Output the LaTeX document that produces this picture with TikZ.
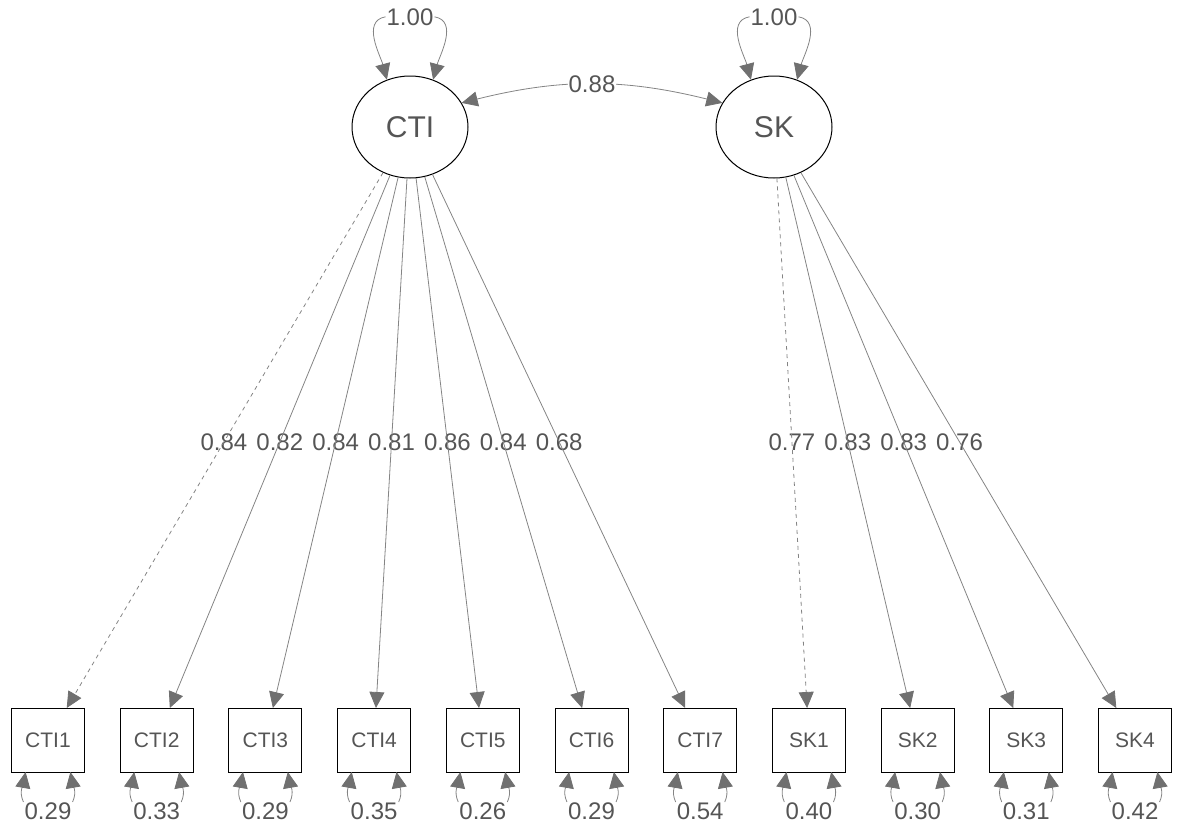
\documentclass[tikz,border=0pt]{standalone}
\usepackage{fontspec}
\setmainfont{Liberation Sans}
\usepackage{tikz}
\usetikzlibrary{positioning, arrows.meta, calc, shapes.geometric}

\definecolor{semtext}{RGB}{85,85,85}
\definecolor{semline}{RGB}{132,132,132}
\definecolor{semhead}{RGB}{112,112,112}

\begin{document}
\begin{tikzpicture}[x=1pt, y=1pt]
	% Define styles
	\tikzset{
		semtip/.tip={Triangle[length=16pt, width=15pt, color=semhead]},
		latent/.style={ellipse, draw, line width=1pt, minimum width=116pt, minimum height=102pt, inner sep=0pt, text=semtext, font=\fontsize{30}{36}\selectfont},
		manifest/.style={rectangle, draw, line width=1pt, minimum width=73pt, minimum height=64pt, inner sep=0pt, outer sep=0pt, text=semtext, font=\fontsize{21}{25}\selectfont},
		est/.style={text=semtext, inner sep=1pt, font=\fontsize{24}{28}\selectfont},
		line/.style={draw=semline, line width=0.8pt, -semtip},
		fixed/.style={line, dash pattern=on 4pt off 4pt},
		twoway/.style={line, semtip-semtip}
	}
	\useasboundingbox (0,0) rectangle (1181,-836);
	
	% Latent variables
	\node[latent] (cti) at (410,-127) {CTI};
	\node[latent, right=247pt of cti] (sk) {SK};
	
	% Indicators
	\node[manifest] (cti1) at (48,-740) {CTI1};
	\node[manifest, right=35.7pt of cti1] (cti2) {CTI2};
	\node[manifest, right=35.7pt of cti2] (cti3) {CTI3};
	\node[manifest, right=35.7pt of cti3] (cti4) {CTI4};
	\node[manifest, right=35.7pt of cti4] (cti5) {CTI5};
	\node[manifest, right=35.7pt of cti5] (cti6) {CTI6};
	\node[manifest, right=35.7pt of cti6] (cti7) {CTI7};
	\node[manifest, right=35.7pt of cti7] (sk1) {SK1};
	\node[manifest, right=35.7pt of sk1] (sk2) {SK2};
	\node[manifest, right=35.7pt of sk2] (sk3) {SK3};
	\node[manifest, right=35.7pt of sk3] (sk4) {SK4};
	
	% Variances
	\node[est, above=49pt of cti] (vcti) {1.00};
	\node[est, above=49pt of sk] (vsk) {1.00};
	
	\node[est, below=30pt of cti1] (rcti1) {0.29};
	\node[est, below=30pt of cti2] (rcti2) {0.33};
	\node[est, below=30pt of cti3] (rcti3) {0.29};
	\node[est, below=30pt of cti4] (rcti4) {0.35};
	\node[est, below=30pt of cti5] (rcti5) {0.26};
	\node[est, below=30pt of cti6] (rcti6) {0.29};
	\node[est, below=30pt of cti7] (rcti7) {0.54};
	\node[est, below=30pt of sk1] (rsk1) {0.40};
	\node[est, below=30pt of sk2] (rsk2) {0.30};
	\node[est, below=30pt of sk3] (rsk3) {0.31};
	\node[est, below=30pt of sk4] (rsk4) {0.42};
	
	% Loadings
	\node[est] (lcti1) at ($(cti)!0.514!(cti1)$) {0.84};
	\node[est] (lcti2) at ($(cti)!0.514!(cti2)$) {0.82};
	\node[est] (lcti3) at ($(cti)!0.514!(cti3)$) {0.84};
	\node[est] (lcti4) at ($(cti)!0.514!(cti4)$) {0.81};
	\node[est] (lcti5) at ($(cti)!0.514!(cti5)$) {0.86};
	\node[est] (lcti6) at ($(cti)!0.514!(cti6)$) {0.84};
	\node[est] (lcti7) at ($(cti)!0.514!(cti7)$) {0.68};
	\node[est] (lsk1) at ($(sk)!0.514!(sk1)$) {0.77};
	\node[est] (lsk2) at ($(sk)!0.514!(sk2)$) {0.83};
	\node[est] (lsk3) at ($(sk)!0.514!(sk3)$) {0.83};
	\node[est] (lsk4) at ($(sk)!0.514!(sk4)$) {0.76};
	
	% Arrows
	\draw[fixed] (cti) -- (cti1);
	\draw[line] (cti) -- (cti2);
	\draw[line] (cti) -- (cti3);
	\draw[line] (cti) -- (cti4);
	\draw[line] (cti) -- (cti5);
	\draw[line] (cti) -- (cti6);
	\draw[line] (cti) -- (cti7);
	
	\draw[fixed] (sk) -- (sk1);
	\draw[line] (sk) -- (sk2);
	\draw[line] (sk) -- (sk3);
	\draw[line] (sk) -- (sk4);
	
	\draw[twoway] (cti.25) to[out=14, in=166] node[est, fill=white] (cov) {0.88} (sk.155);
	
	\draw[line] (vcti.west) to[out=190, in=105] (cti.116);
	\draw[line] (vcti.east) to[out=-10, in=75] (cti.64);
	\draw[line] (vsk.west) to[out=190, in=105] (sk.116);
	\draw[line] (vsk.east) to[out=-10, in=75] (sk.64);
	
	\draw[line] (rcti1.north west) to[out=115, in=-100] (cti1.235);
	\draw[line] (rcti1.north east) to[out=65, in=-80] (cti1.305);
	\draw[line] (rcti2.north west) to[out=115, in=-100] (cti2.235);
	\draw[line] (rcti2.north east) to[out=65, in=-80] (cti2.305);
	\draw[line] (rcti3.north west) to[out=115, in=-100] (cti3.235);
	\draw[line] (rcti3.north east) to[out=65, in=-80] (cti3.305);
	\draw[line] (rcti4.north west) to[out=115, in=-100] (cti4.235);
	\draw[line] (rcti4.north east) to[out=65, in=-80] (cti4.305);
	\draw[line] (rcti5.north west) to[out=115, in=-100] (cti5.235);
	\draw[line] (rcti5.north east) to[out=65, in=-80] (cti5.305);
	\draw[line] (rcti6.north west) to[out=115, in=-100] (cti6.235);
	\draw[line] (rcti6.north east) to[out=65, in=-80] (cti6.305);
	\draw[line] (rcti7.north west) to[out=115, in=-100] (cti7.235);
	\draw[line] (rcti7.north east) to[out=65, in=-80] (cti7.305);
	\draw[line] (rsk1.north west) to[out=115, in=-100] (sk1.235);
	\draw[line] (rsk1.north east) to[out=65, in=-80] (sk1.305);
	\draw[line] (rsk2.north west) to[out=115, in=-100] (sk2.235);
	\draw[line] (rsk2.north east) to[out=65, in=-80] (sk2.305);
	\draw[line] (rsk3.north west) to[out=115, in=-100] (sk3.235);
	\draw[line] (rsk3.north east) to[out=65, in=-80] (sk3.305);
	\draw[line] (rsk4.north west) to[out=115, in=-100] (sk4.235);
	\draw[line] (rsk4.north east) to[out=65, in=-80] (sk4.305);
	
\end{tikzpicture}
\end{document}
